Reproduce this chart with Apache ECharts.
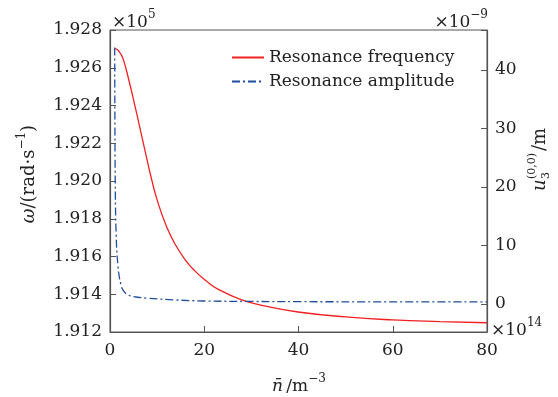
<!DOCTYPE html>
<html>
<head>
<meta charset="utf-8">
<script src="https://cdn.jsdelivr.net/npm/echarts@6/dist/echarts.min.js"></script>
<style>html,body{margin:0;padding:0;background:#fff;}#c{width:558px;height:397px;}</style>
</head>
<body>
<div id="c"></div>
<script>
// x values: n (×10^14 m^-3)
const freqN = [1.0, 1.6, 2.4, 3.0, 3.8, 5.0, 6.3, 7.5, 8.8, 10.2, 12.0, 13.7, 16.0, 18.0, 20.5, 22.9, 27.8, 33, 39.9, 50, 60, 70, 80];
// resonance frequency (×10^5 rad/s)
const freqVal = [1.92701, 1.92695, 1.92668, 1.92630, 1.92555, 1.92430, 1.92287, 1.92153, 1.92012, 1.91883, 1.91759, 1.91670, 1.91581, 1.91524, 1.91469, 1.91427, 1.91372, 1.91337, 1.91306, 1.91280, 1.91264, 1.91255, 1.91249];
const ampN = [1.0, 1.1, 1.3, 1.7, 2.4, 3.0, 3.8, 5.0, 8.0, 13.7, 20, 30, 40, 60, 80];
// resonance amplitude (×10^-9 m)
const ampVal = [43.8, 22, 12, 6.4, 3.0, 2.1, 1.55, 1.25, 0.97, 0.68, 0.5, 0.42, 0.38, 0.35, 0.33];
const xTicks = [0, 20, 40, 60, 80];
const seriesNames = ['Resonance frequency', 'Resonance amplitude'];

const FONT = 'DejaVu Serif';
const TXT = '#222';
const AX = '#555';

const chart = echarts.init(document.getElementById('c'));
const zip = (a, b) => a.map((v, i) => [v, b[i]]);

chart.setOption({
  animation: false,
  backgroundColor: '#fff',
  grid: { left: 110, right: 71, top: 30, bottom: 65, show: true, borderColor: AX, borderWidth: 1 },
  legend: {
    orient: 'vertical', left: 226, top: 44, itemWidth: 32, itemHeight: 14, itemGap: 7,
    itemStyle: { opacity: 0 },
    textStyle: { fontFamily: FONT, fontSize: 17, color: TXT, lineHeight: 17 },
    data: seriesNames
  },
  xAxis: {
    type: 'value', min: xTicks[0], max: xTicks[xTicks.length - 1], interval: 20,
    axisLine: { onZero: false, lineStyle: { color: AX, width: 1.2 } },
    axisTick: { inside: true, length: 6, lineStyle: { color: AX } },
    axisLabel: { fontFamily: FONT, fontSize: 17, color: TXT, margin: 10 },
    splitLine: { show: false }
  },
  yAxis: [
    {
      type: 'value', min: 1.912, max: 1.928, interval: 0.002,
      axisLine: { show: true, onZero: false, lineStyle: { color: AX, width: 1.2 } },
      axisTick: { show: true, inside: true, length: 6, lineStyle: { color: AX } },
      axisLabel: { fontFamily: FONT, fontSize: 17, color: TXT, margin: 8, formatter: v => v.toFixed(3) },
      splitLine: { show: false }
    },
    {
      type: 'value', position: 'right', min: -4.8, max: 46.8, splitNumber: 5,
      axisLine: { show: true, onZero: false, lineStyle: { color: AX, width: 1.2 } },
      axisTick: { show: true, inside: true, length: 6, lineStyle: { color: AX } },
      axisLabel: { fontFamily: FONT, fontSize: 17, color: TXT, margin: 8,
        formatter: v => (Math.abs(v - Math.round(v / 10) * 10) < 1e-6 ? String(Math.round(v)) : '') },
      splitLine: { show: false }
    }
  ],
  series: [
    {
      name: seriesNames[0], type: 'line', yAxisIndex: 0, data: zip(freqN, freqVal),
      symbol: 'none', smooth: 0.5,
      lineStyle: { color: '#f02020', width: 1.3 }, itemStyle: { color: '#f02020' }
    },
    {
      name: seriesNames[1], type: 'line', yAxisIndex: 1, data: zip(ampN, ampVal),
      symbol: 'none', smooth: 0.4,
      lineStyle: { color: '#1f4e9e', width: 1.3, type: [8, 3, 2, 3] }, itemStyle: { color: '#1f4e9e' }
    }
  ],
  graphic: [
    { type: 'text', x: 112, y: 31, style: { text: '{m|×10}{s|5}', align: 'left', verticalAlign: 'bottom', fill: TXT,
      rich: { m: { fontFamily: FONT, fontSize: 17, lineHeight: 22, verticalAlign: 'bottom', fill: TXT },
              s: { fontFamily: FONT, fontSize: 12, lineHeight: 12, verticalAlign: 'top', fill: TXT } } } },
    { type: 'text', x: 488, y: 31, style: { text: '{m|×10}{s|−9}', align: 'right', verticalAlign: 'bottom', fill: TXT,
      rich: { m: { fontFamily: FONT, fontSize: 17, lineHeight: 22, verticalAlign: 'bottom', fill: TXT },
              s: { fontFamily: FONT, fontSize: 12, lineHeight: 12, verticalAlign: 'top', fill: TXT } } } },
    { type: 'text', x: 491, y: 339, style: { text: '{m|×10}{s|14}', align: 'left', verticalAlign: 'bottom', fill: TXT,
      rich: { m: { fontFamily: FONT, fontSize: 17, lineHeight: 22, verticalAlign: 'bottom', fill: TXT },
              s: { fontFamily: FONT, fontSize: 12, lineHeight: 12, verticalAlign: 'top', fill: TXT } } } },
    { type: 'text', x: 299, y: 395, style: { text: '{i|n\u0304} {m|/m}{s|−3}', align: 'center', verticalAlign: 'bottom', fill: TXT,
      rich: { i: { fontFamily: FONT, fontStyle: 'italic', fontSize: 17, lineHeight: 22, verticalAlign: 'bottom', fill: TXT },
              m: { fontFamily: FONT, fontSize: 17, lineHeight: 22, verticalAlign: 'bottom', fill: TXT },
              s: { fontFamily: FONT, fontSize: 12, lineHeight: 12, verticalAlign: 'top', fill: TXT } } } },
    { type: 'group', x: 27, y: 174, rotation: Math.PI / 2, children: [
      { type: 'text', x: 0, y: 0, style: { text: '{i|ω}{m|/(rad·s}{s|−1}{m|)}', align: 'center', verticalAlign: 'middle', fill: TXT,
        rich: { i: { fontFamily: FONT, fontStyle: 'italic', fontSize: 18, lineHeight: 22, verticalAlign: 'bottom', fill: TXT },
                m: { fontFamily: FONT, fontSize: 18, lineHeight: 22, verticalAlign: 'bottom', fill: TXT },
                s: { fontFamily: FONT, fontSize: 12, lineHeight: 12, verticalAlign: 'top', fill: TXT } } } }
    ] },
    { type: 'group', x: 540, y: 157, rotation: Math.PI / 2, children: [
      { type: 'text', x: -34, y: 0, style: { text: 'u', fontFamily: FONT, fontStyle: 'italic', fontSize: 18, fill: TXT, align: 'left', verticalAlign: 'middle' } },
      { type: 'text', x: -22, y: 6, style: { text: '3', fontFamily: FONT, fontSize: 11, fill: TXT, align: 'left', verticalAlign: 'middle' } },
      { type: 'text', x: -22, y: -8, style: { text: '(0,0)', fontFamily: FONT, fontSize: 11, fill: TXT, align: 'left', verticalAlign: 'middle' } },
      { type: 'text', x: 6, y: 0, style: { text: '/m', fontFamily: FONT, fontSize: 18, fill: TXT, align: 'left', verticalAlign: 'middle' } }
    ] }
  ]
});
</script>
</body>
</html>
